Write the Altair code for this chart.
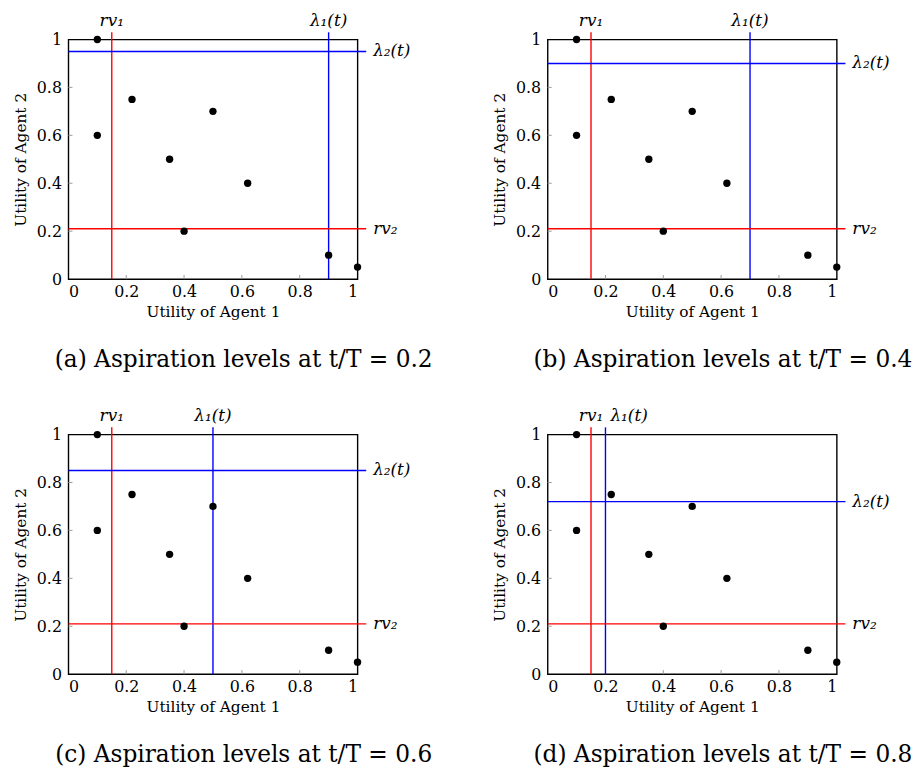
import altair as alt
import pandas as pd

# ---- data ----
u1 = [0.1, 0.1, 0.22, 0.35, 0.5, 0.62, 0.4, 0.9, 1.0]
u2 = [1.0, 0.6, 0.75, 0.5, 0.7, 0.4, 0.2, 0.1, 0.05]
rv1 = 0.15
rv2 = 0.21
t_over_T = [0.2, 0.4, 0.6, 0.8]
lambda1 = [0.9, 0.7, 0.5, 0.2]
lambda2 = [0.95, 0.9, 0.85, 0.72]
letters = ["a", "b", "c", "d"]
tick_values = [0, 0.2, 0.4, 0.6, 0.8, 1.0]
inner_ticks = [0.2, 0.4, 0.6, 0.8]

SERIF = "DejaVu Serif"
W, H = 292, 242
EXT = 1.03  # how far the level lines reach past the frame

pts_df = pd.DataFrame({"u1": u1, "u2": u2})
ticks_df = pd.DataFrame({"v": inner_ticks})


def panel(i):
    xs = alt.Scale(domain=[0, 1], nice=False, zero=False)
    ys = alt.Scale(domain=[0, 1], nice=False, zero=False)
    xaxis = alt.Axis(title="Utility of Agent 1", values=tick_values, format=".1~f",
                     domain=False, ticks=False, grid=False, labelPadding=5,
                     labelFont=SERIF, labelFontSize=16, labelColor="black",
                     titleFont=SERIF, titleFontSize=15.5, titleFontWeight="normal",
                     titleColor="black", titlePadding=5)
    yaxis = alt.Axis(title="Utility of Agent 2", values=tick_values, format=".1~f",
                     domain=False, ticks=False, grid=False, labelPadding=7,
                     labelFont=SERIF, labelFontSize=16, labelColor="black",
                     titleFont=SERIF, titleFontSize=15.5, titleFontWeight="normal",
                     titleColor="black", titlePadding=8)

    vdf = pd.DataFrame({"x": [rv1, lambda1[i]], "y0": [0, 0], "y1": [EXT, EXT],
                        "c": ["#ff0000", "#0000ff"]})
    hdf = pd.DataFrame({"y": [rv2, lambda2[i]], "x0": [0, 0], "x1": [EXT, EXT],
                        "c": ["#ff0000", "#0000ff"]})

    base_pts = alt.Chart(pts_df).mark_circle(size=55, color="black", opacity=1).encode(
        x=alt.X("u1:Q", scale=xs, axis=xaxis),
        y=alt.Y("u2:Q", scale=ys, axis=yaxis),
    )
    xticks = alt.Chart(ticks_df).mark_rule(color="#999999", strokeWidth=1).encode(
        x=alt.X("v:Q", scale=xs), y=alt.datum(0), y2=alt.datum(0.017))
    yticks = alt.Chart(ticks_df).mark_rule(color="#999999", strokeWidth=1).encode(
        y=alt.Y("v:Q", scale=ys), x=alt.datum(0), x2=alt.datum(0.014))
    vrules = alt.Chart(vdf).mark_rule(strokeWidth=1.4).encode(
        x=alt.X("x:Q", scale=xs), y=alt.Y("y0:Q", scale=ys), y2="y1:Q",
        color=alt.Color("c:N", scale=None))
    hrules = alt.Chart(hdf).mark_rule(strokeWidth=1.4).encode(
        y=alt.Y("y:Q", scale=ys), x=alt.X("x0:Q", scale=xs), x2="x1:Q",
        color=alt.Color("c:N", scale=None))

    lam_close = abs(lambda1[i] - rv1) < 0.1
    top_df = pd.DataFrame({"x": [rv1], "y": [EXT], "t": ["rv\u2081"]})
    lam_df = pd.DataFrame({"x": [lambda1[i]], "y": [EXT], "t": ["\u03bb\u2081(t)"]})
    right_df = pd.DataFrame({"x": [EXT, EXT], "y": [rv2, lambda2[i]],
                             "t": ["rv\u2082", "\u03bb\u2082(t)"]})

    top_lbl = alt.Chart(top_df).mark_text(font=SERIF, fontSize=17, fontStyle="italic",
                                          baseline="bottom", dy=-2, color="black").encode(
        x=alt.X("x:Q", scale=xs), y=alt.Y("y:Q", scale=ys), text="t:N")
    lam_lbl = alt.Chart(lam_df).mark_text(font=SERIF, fontSize=17, fontStyle="italic",
                                          baseline="bottom", dy=-2,
                                          align="left" if lam_close else "center",
                                          dx=5 if lam_close else 0,
                                          color="black").encode(
        x=alt.X("x:Q", scale=xs), y=alt.Y("y:Q", scale=ys), text="t:N")
    right_lbl = alt.Chart(right_df).mark_text(font=SERIF, fontSize=17, fontStyle="italic",
                                              align="left", baseline="middle", dx=7,
                                              color="black").encode(
        x=alt.X("x:Q", scale=xs), y=alt.Y("y:Q", scale=ys), text="t:N")

    caption = f"({letters[i]}) Aspiration levels at t/T = {t_over_T[i]}"
    return alt.layer(xticks, yticks, vrules, hrules, base_pts, top_lbl, lam_lbl, right_lbl).properties(
        width=W, height=H,
        title=alt.TitleParams(text=caption, orient="bottom", font=SERIF, fontSize=23.5,
                              fontWeight="normal", color="black", offset=28,
                              anchor="middle", frame="group", dx=31),
    )


row1 = alt.hconcat(panel(0), panel(1), spacing=58)
row2 = alt.hconcat(panel(2), panel(3), spacing=58)
chart = alt.vconcat(row1, row2, spacing=35).configure_view(
    stroke="black", strokeWidth=1.4
).properties(padding={"left": 4, "top": 0, "right": 0, "bottom": 0}, background="white")

chart.save("out.html", embed_options={"renderer": "svg", "actions": False})
